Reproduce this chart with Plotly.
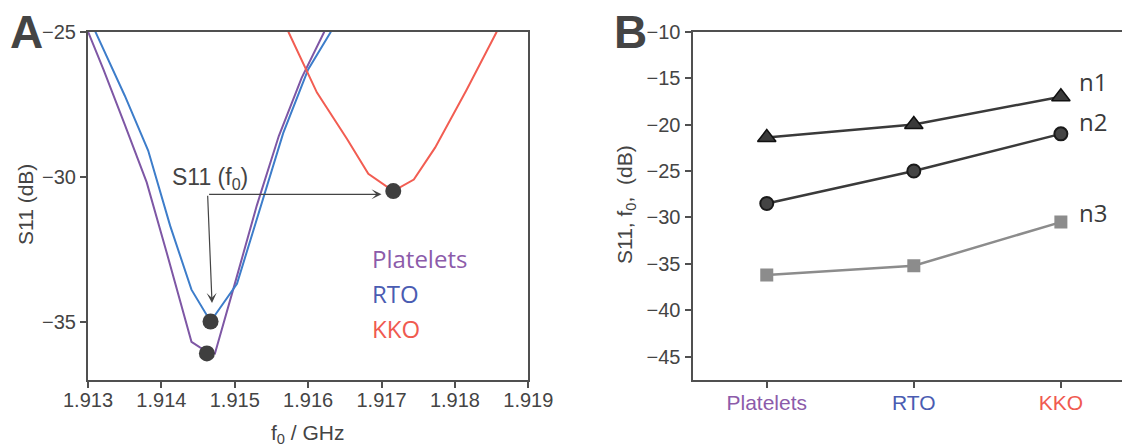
import plotly.graph_objects as go

# page offset: the html body has an 8px margin, so the figure is drawn from (8, 8)
OFF = 8
W, H = 1130 - OFF, 448 - OFF

# ---------------- data: panel A (S11 spectra) ----------------
platelets_f = [1.91300, 1.91321, 1.91350, 1.91380, 1.91407, 1.91441, 1.91453, 1.91473,
               1.91500, 1.91530, 1.91560, 1.91591, 1.91622]
platelets_s = [-25.0, -26.3, -28.2, -30.2, -32.6, -35.7, -35.9, -36.1,
               -33.7, -31.0, -28.6, -26.6, -25.0]

rto_f = [1.91310, 1.91350, 1.91382, 1.91412, 1.91441, 1.91467, 1.91503, 1.91539,
         1.91566, 1.91600, 1.91631]
rto_s = [-25.0, -27.2, -29.1, -31.7, -33.9, -35.0, -33.7, -30.7, -28.5, -26.3, -25.0]

kko_f = [1.91573, 1.91612, 1.91653, 1.91682, 1.91716, 1.91744, 1.91773, 1.91816, 1.91857]
kko_s = [-25.0, -27.1, -28.7, -29.9, -30.5, -30.1, -29.0, -27.0, -25.0]

min_f = [1.91462, 1.91467, 1.91716]
min_s = [-36.1, -35.0, -30.5]

# ---------------- data: panel B ----------------
categories = ["Platelets", "RTO", "KKO"]
n1 = [-21.4, -20.0, -17.0]
n2 = [-28.5, -25.0, -21.0]
n3 = [-36.2, -35.2, -30.5]
series_names = ["n1", "n2", "n3"]

a_yticks = [-25, -30, -35]
b_yticks = [-10, -15, -20, -25, -30, -35, -40, -45]

# ---------------- styling ----------------
C_PLT = "#7E57A5"
C_RTO = "#3D7DCA"
C_KKO = "#F25D52"
T_PLT = "#8C5BAA"
T_RTO = "#4A5CB2"
T_KKO = "#F05A50"
AX = "#505050"
TXT = "#444444"
FONT = "Liberation Sans, Arial, sans-serif"
FONT2 = "Open Sans, sans-serif"


def px(x):
    return (x - OFF) / W


def py(y):
    return 1 - (y - OFF) / H


fig = go.Figure()

for f, s, c in [(platelets_f, platelets_s, C_PLT), (rto_f, rto_s, C_RTO), (kko_f, kko_s, C_KKO)]:
    fig.add_trace(go.Scatter(x=f, y=s, mode="lines", line=dict(color=c, width=2),
                             xaxis="x", yaxis="y", showlegend=False, hoverinfo="skip"))

fig.add_trace(go.Scatter(x=min_f, y=min_s, mode="markers",
                         marker=dict(color="#3F3F3F", size=16),
                         xaxis="x", yaxis="y", showlegend=False))

fig.add_trace(go.Scatter(x=categories, y=n1, mode="lines+markers",
                         line=dict(color="#3A3A3A", width=2.5),
                         marker=dict(symbol="triangle-up", size=16, color="#3A3A3A",
                                     line=dict(color="#111111", width=1.5)),
                         xaxis="x2", yaxis="y2", showlegend=False))
fig.add_trace(go.Scatter(x=categories, y=n2, mode="lines+markers",
                         line=dict(color="#3A3A3A", width=2.5),
                         marker=dict(symbol="circle", size=13, color="#444444",
                                     line=dict(color="#1A1A1A", width=2)),
                         xaxis="x2", yaxis="y2", showlegend=False))
fig.add_trace(go.Scatter(x=categories, y=n3, mode="lines+markers",
                         line=dict(color="#8C8C8C", width=2.5),
                         marker=dict(symbol="square", size=13, color="#8C8C8C"),
                         xaxis="x2", yaxis="y2", showlegend=False))

ydom = [py(379.5), py(31.7)]
common = dict(showgrid=False, zeroline=False, showline=True, linecolor=AX, linewidth=2,
              ticks="outside", ticklen=6, tickwidth=2, tickcolor=AX, automargin=False,
              tickfont=dict(family=FONT, size=20, color=TXT))

tick_colors = [T_PLT, T_RTO, T_KKO]
ticktext_b = [f'<span style="color:{c}">{t}</span>' for t, c in zip(categories, tick_colors)]

fig.update_layout(
    width=W, height=H, autosize=False,
    margin=dict(l=0, r=0, t=0, b=0, pad=0, autoexpand=False),
    paper_bgcolor="white", plot_bgcolor="white",
    font=dict(family=FONT, color=TXT),
    xaxis=dict(domain=[px(88), px(528.3)], range=[1.913, 1.919], dtick=0.001,
               tickformat=".3f", mirror=True, anchor="y", ticklabelstandoff=-5, **common),
    yaxis=dict(domain=ydom, range=[-37, -25], tickvals=a_yticks, mirror=True,
               anchor="x", **common),
    xaxis2=dict(domain=[px(692.5), 1.0], type="category", range=[-0.505, 2.47],
                tickvals=categories, ticktext=ticktext_b, mirror=True, anchor="y2",
                ticklabelstandoff=-3, **common),
    yaxis2=dict(domain=ydom, range=[-47.45, -10], tickvals=b_yticks, anchor="x2", **common),
)
fig.update_xaxes(tickfont_size=21, selector=dict(anchor="y2"))


def label(text, x, y, size, color=TXT, family=FONT, angle=0, xanchor="center"):
    return dict(text=text, x=px(x), y=py(y), xref="paper", yref="paper",
                xanchor=xanchor, yanchor="middle", textangle=angle, showarrow=False,
                font=dict(family=family, size=size, color=color))


ann = []
# panel letters
ann.append(label("<b>A</b>", 26, 32, 46))
ann.append(label("<b>B</b>", 630, 32, 46))
# axis titles
ann.append(label("S11 (dB)", 25, 205, 21, angle=-90))
ann.append(label("f<sub>0</sub> / GHz", 308, 434, 21))
ann.append(label("S11, f<sub>0</sub>,\u00a0\u00a0(dB)", 626, 205, 21, angle=-90))
# S11 (f0) label + arrows
ann.append(label("S11 (f<sub>0</sub>)", 210, 178, 23))
tail_f, tail_s = 1.91463, -30.61
ann.append(dict(x=1.91700, y=tail_s, ax=tail_f, ay=tail_s, xref="x", yref="y",
                axref="x", ayref="y", text="", showarrow=True, arrowhead=3,
                arrowsize=1.4, arrowwidth=1.2, arrowcolor="#444444", standoff=0))
ann.append(dict(x=1.91469, y=-34.36, ax=tail_f, ay=tail_s, xref="x", yref="y",
                axref="x", ayref="y", text="", showarrow=True, arrowhead=3,
                arrowsize=1.4, arrowwidth=1.2, arrowcolor="#444444", standoff=0))
# colored labels
for name, col, yy in zip(categories, [T_PLT, T_RTO, T_KKO], [258, 293, 328]):
    ann.append(label(name, 370, yy, 24, color=col, family=FONT2, xanchor="left"))
# n labels
for name, yy in zip(series_names, [81, 122, 212]):
    ann.append(label(name, 1077, yy, 24, color="#3A3A3A", family=FONT2, xanchor="left"))

fig.update_layout(annotations=ann)
fig.write_html("out.html")
